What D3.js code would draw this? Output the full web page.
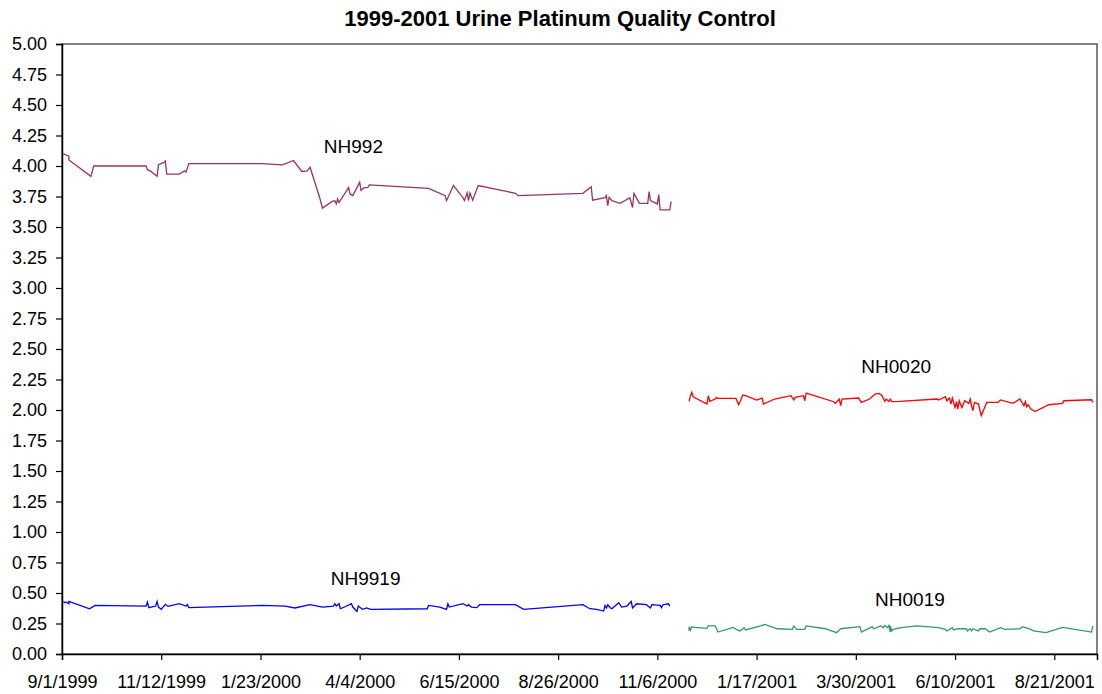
<!DOCTYPE html>
<html>
<head>
<meta charset="utf-8">
<script src="https://cdn.jsdelivr.net/npm/d3@7"></script>
<style>
  html, body { margin: 0; padding: 0; background: #fff; }
  svg { display: block; font-family: Arial, "Liberation Sans", sans-serif; }
</style>
</head>
<body>
<svg id="chart" width="1102" height="694"></svg>
<script>
const titleText = "1999-2001 Urine Platinum Quality Control";
const xTickLabels = ["9/1/1999","11/12/1999","1/23/2000","4/4/2000","6/15/2000","8/26/2000","11/6/2000","1/17/2001","3/30/2001","6/10/2001","8/21/2001"];
const xDomain = ["9/1/1999", "9/21/2001"];
const yTicks = [0,0.25,0.5,0.75,1,1.25,1.5,1.75,2,2.25,2.5,2.75,3,3.25,3.5,3.75,4,4.25,4.5,4.75,5];

const nh992 = [
["9/2/1999",4.10],["9/4/1999",4.09],["9/6/1999",4.08],["9/6/1999",4.05],["9/22/1999",3.915],["9/24/1999",4.00],
["11/1/1999",4.00],["11/2/1999",3.97],["11/4/1999",3.96],["11/9/1999",3.915],["11/10/1999",4.01],["11/14/1999",4.03],
["11/15/1999",4.04],["11/16/1999",3.934],["11/25/1999",3.934],["11/29/1999",3.96],["11/30/1999",3.95],["12/2/1999",4.02],
["1/24/2000",4.02],["2/8/2000",4.01],["2/16/2000",4.045],["2/22/2000",3.955],["2/26/2000",3.96],["2/28/2000",3.99],
["3/6/2000",3.74],["3/8/2000",3.655],["3/15/2000",3.71],["3/17/2000",3.715],["3/18/2000",3.69],["3/19/2000",3.73],
["3/20/2000",3.70],["3/27/2000",3.825],["3/28/2000",3.77],["3/30/2000",3.757],["4/4/2000",3.866],["4/5/2000",3.80],
["4/7/2000",3.82],["4/10/2000",3.825],["4/11/2000",3.845],["5/24/2000",3.817],["6/5/2000",3.757],["6/6/2000",3.716],
["6/11/2000",3.84],["6/18/2000",3.74],["6/19/2000",3.716],["6/21/2000",3.78],["6/22/2000",3.716],["6/23/2000",3.78],
["6/25/2000",3.72],["6/29/2000",3.84],["7/26/2000",3.776],["7/28/2000",3.757],["9/13/2000",3.776],["9/19/2000",3.83],
["9/20/2000",3.72],["9/29/2000",3.74],["9/30/2000",3.757],["10/1/2000",3.675],["10/2/2000",3.743],["10/4/2000",3.716],
["10/10/2000",3.694],["10/17/2000",3.74],["10/19/2000",3.66],["10/20/2000",3.776],["10/24/2000",3.694],["10/30/2000",3.694],
["10/31/2000",3.79],["11/1/2000",3.716],["11/6/2000",3.689],["11/7/2000",3.765],["11/8/2000",3.64],["11/15/2000",3.64],
["11/16/2000",3.71]
];

const nh9919 = [
["9/2/1999",0.431],["9/3/1999",0.42],["9/4/1999",0.426],["9/6/1999",0.412],["9/6/1999",0.431],["9/21/1999",0.371],
["9/25/1999",0.398],["11/1/1999",0.393],["11/2/1999",0.426],["11/3/1999",0.38],["11/8/1999",0.393],["11/9/1999",0.431],
["11/10/1999",0.385],["11/12/1999",0.366],["11/15/1999",0.407],["11/17/1999",0.39],["11/25/1999",0.412],["11/30/1999",0.393],
["12/1/1999",0.404],["12/2/1999",0.38],["1/24/2000",0.398],["2/10/2000",0.393],["2/17/2000",0.377],["2/28/2000",0.404],
["3/8/2000",0.385],["3/16/2000",0.393],["3/17/2000",0.412],["3/18/2000",0.393],["3/20/2000",0.412],["3/21/2000",0.371],
["3/24/2000",0.385],["3/29/2000",0.412],["3/30/2000",0.385],["4/2/2000",0.349],["4/3/2000",0.393],["4/6/2000",0.366],
["4/9/2000",0.377],["4/12/2000",0.366],["5/23/2000",0.371],["5/24/2000",0.398],["6/1/2000",0.385],["6/6/2000",0.366],
["6/7/2000",0.412],["6/8/2000",0.385],["6/18/2000",0.412],["6/21/2000",0.393],["6/22/2000",0.404],["6/24/2000",0.385],
["6/28/2000",0.38],["6/30/2000",0.404],["7/26/2000",0.404],["8/1/2000",0.366],["9/13/2000",0.404],["9/18/2000",0.371],
["9/23/2000",0.366],["9/28/2000",0.352],["9/29/2000",0.398],["9/30/2000",0.377],["10/1/2000",0.404],["10/3/2000",0.377],
["10/4/2000",0.371],["10/9/2000",0.42],["10/11/2000",0.385],["10/15/2000",0.393],["10/18/2000",0.431],["10/19/2000",0.377],
["10/22/2000",0.412],["10/29/2000",0.404],["11/1/2000",0.377],["11/2/2000",0.404],["11/8/2000",0.398],["11/9/2000",0.38],
["11/10/2000",0.404],["11/14/2000",0.412],["11/15/2000",0.393]
];

const nh0020 = [
["11/29/2000",2.07],["11/30/2000",2.117],["12/1/2000",2.144],["12/2/2000",2.109],["12/12/2000",2.049],["12/13/2000",2.117],
["12/14/2000",2.07],["12/18/2000",2.09],["12/19/2000",2.103],["12/20/2000",2.095],["1/2/2001",2.095],["1/4/2001",2.043],
["1/5/2001",2.068],["1/7/2001",2.123],["1/9/2001",2.117],["1/17/2001",2.082],["1/19/2001",2.09],["1/21/2001",2.098],
["1/22/2001",2.049],["1/30/2001",2.09],["2/11/2001",2.117],["2/13/2001",2.082],["2/14/2001",2.103],["2/20/2001",2.117],
["2/21/2001",2.076],["2/22/2001",2.139],["3/14/2001",2.068],["3/15/2001",2.054],["3/18/2001",2.09],["3/19/2001",2.035],
["3/20/2001",2.09],["4/1/2001",2.098],["4/3/2001",2.062],["4/9/2001",2.09],["4/13/2001",2.131],["4/16/2001",2.136],
["4/18/2001",2.117],["4/20/2001",2.07],["4/21/2001",2.09],["4/23/2001",2.07],["4/24/2001",2.09],["4/25/2001",2.068],
["5/1/2001",2.07],["5/28/2001",2.09],["5/29/2001",2.082],["6/3/2001",2.109],["6/4/2001",2.076],["6/6/2001",2.098],
["6/7/2001",2.049],["6/8/2001",2.098],["6/10/2001",2.021],["6/11/2001",2.068],["6/12/2001",2.008],["6/13/2001",2.076],
["6/15/2001",2.021],["6/17/2001",2.076],["6/20/2001",2.054],["6/21/2001",2.09],["6/22/2001",2.035],["6/23/2001",1.994],
["6/24/2001",2.062],["6/27/2001",2.049],["6/29/2001",1.953],["7/3/2001",2.062],["7/11/2001",2.062],["7/13/2001",2.082],
["7/22/2001",2.054],["7/27/2001",2.09],["7/30/2001",2.035],["7/31/2001",2.07],["8/1/2001",2.027],["8/2/2001",2.043],
["8/4/2001",2.008],["8/7/2001",1.988],["8/17/2001",2.043],["8/27/2001",2.054],["8/28/2001",2.076],["9/17/2001",2.084],
["9/18/2001",2.062]
];

const nh0019 = [
["11/29/2000",0.189],["11/29/2000",0.224],["11/30/2000",0.197],["12/1/2000",0.224],["12/3/2000",0.218],["12/12/2000",0.21],
["12/13/2000",0.23],["12/18/2000",0.23],["12/20/2000",0.18],["12/31/2000",0.218],["1/3/2001",0.197],["1/5/2001",0.189],
["1/8/2001",0.216],["1/9/2001",0.197],["1/20/2001",0.23],["1/23/2001",0.243],["2/1/2001",0.207],["2/12/2001",0.202],
["2/13/2001",0.23],["2/15/2001",0.202],["2/21/2001",0.202],["2/22/2001",0.23],["3/8/2001",0.207],["3/16/2001",0.175],
["3/19/2001",0.207],["4/2/2001",0.224],["4/3/2001",0.18],["4/11/2001",0.224],["4/12/2001",0.207],["4/17/2001",0.23],
["4/19/2001",0.216],["4/20/2001",0.234],["4/22/2001",0.216],["4/23/2001",0.234],["4/24/2001",0.18],["4/24/2001",0.23],
["4/25/2001",0.189],["4/26/2001",0.202],["5/2/2001",0.216],["5/13/2001",0.23],["5/29/2001",0.216],["6/3/2001",0.202],
["6/4/2001",0.189],["6/8/2001",0.216],["6/9/2001",0.197],["6/12/2001",0.207],["6/14/2001",0.207],["6/18/2001",0.207],
["6/19/2001",0.189],["6/21/2001",0.207],["6/22/2001",0.19],["6/23/2001",0.207],["6/27/2001",0.189],["6/28/2001",0.207],
["7/2/2001",0.207],["7/5/2001",0.18],["7/13/2001",0.216],["7/16/2001",0.202],["7/27/2001",0.207],["7/29/2001",0.224],
["8/4/2001",0.202],["8/6/2001",0.189],["8/15/2001",0.175],["8/27/2001",0.218],["9/17/2001",0.18],["9/18/2001",0.23]
];

const seriesNames = ["NH992","NH9919","NH0020","NH0019"];
const seriesColors = ["#993366","#0000ff","#ff0000","#339966"];
// label anchor: [date, value] where each series name is written
const labelAnchors = [["3/9/2000",4.11],["3/14/2000",0.568],["4/3/2001",2.306],["4/13/2001",0.396]];

const seriesData = [nh992, nh9919, nh0020, nh0019];

const parse = d3.timeParse("%m/%d/%Y");
const margin = {left: 62, top: 44, right: 5, bottom: 40};
const W = 1102, H = 694;
const plotW = 1097 - margin.left, plotH = 654 - margin.top;

const svg = d3.select("#chart");
const g = svg.append("g").attr("transform", `translate(${margin.left},${margin.top})`);

const x = d3.scaleTime().domain(xDomain.map(parse)).range([0, plotW]);
const y = d3.scaleLinear().domain([0, 5]).range([plotH, 0]);

// frame
g.append("rect").attr("x", 0).attr("y", 0).attr("width", plotW).attr("height", plotH)
  .attr("fill", "none").attr("stroke", "#404040").attr("stroke-width", 1.3);

// lines
const line = d3.line().x(d => x(parse(d[0]))).y(d => y(d[1]));
seriesData.forEach((data, i) => {
  g.append("path").datum(data).attr("d", line)
    .attr("fill", "none").attr("stroke", seriesColors[i]).attr("stroke-width", 1.3)
    .attr("stroke-linejoin", "miter");
});

// series labels
labelAnchors.forEach((a, i) => {
  g.append("text").attr("x", x(parse(a[0]))).attr("y", y(a[1]))
    .attr("font-size", 19).attr("fill", "#000").text(seriesNames[i]);
});

// axes
const yAxis = d3.axisLeft(y).tickValues(yTicks).tickFormat(d3.format(".2f")).tickSize(6).tickPadding(9);
const gy = g.append("g").call(yAxis);
const xAxis = d3.axisBottom(x).tickValues(xTickLabels.map(parse)).tickFormat(d3.timeFormat("%-m/%-d/%Y")).tickSize(6).tickPadding(15);
const gx = g.append("g").attr("transform", `translate(0,${plotH})`).call(xAxis);

[gy, gx].forEach(ax => {
  ax.select(".domain").attr("stroke", "#000").attr("stroke-width", 1.5);
  ax.selectAll(".tick line").attr("stroke", "#000").attr("stroke-width", 1.2);
  ax.selectAll(".tick text").attr("font-size", 18).attr("fill", "#000")
    .attr("font-family", "Arial, 'Liberation Sans', sans-serif");
});

// title
svg.append("text").attr("x", 560).attr("y", 26).attr("text-anchor", "middle")
  .attr("font-size", 22).attr("font-weight", "bold").attr("fill", "#000").text(titleText);
</script>
</body>
</html>
